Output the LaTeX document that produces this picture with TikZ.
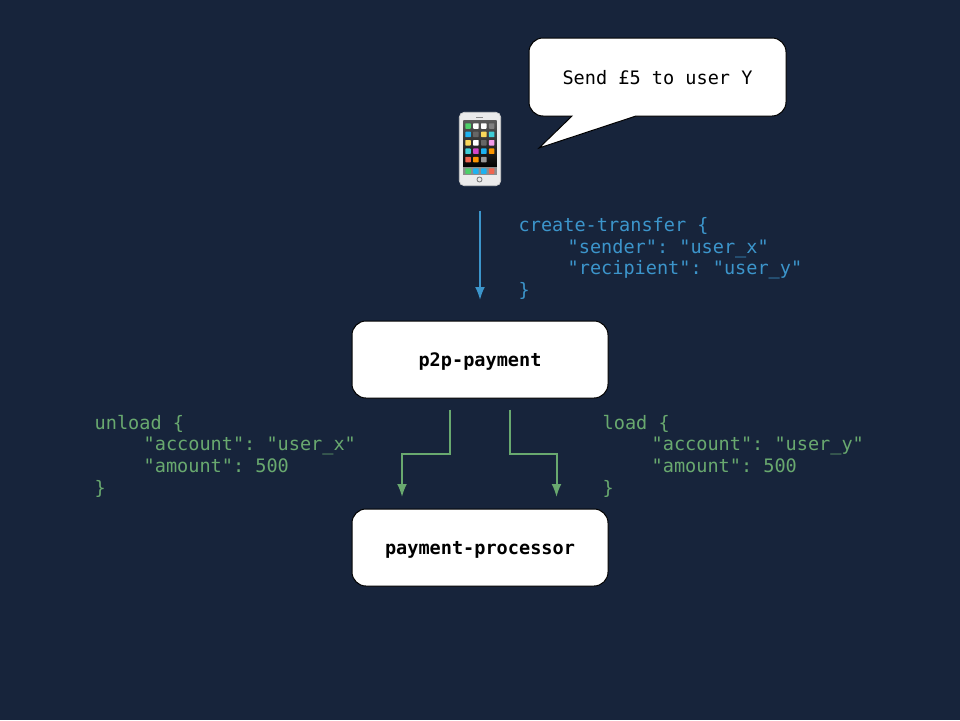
\documentclass[tikz,border=0pt]{standalone}
\usepackage{fontspec}
\setmonofont{DejaVu Sans Mono}
\usetikzlibrary{arrows.meta}
\tikzset{>={Latex[length=13pt,width=10pt]}}
\definecolor{nightbg}{HTML}{17243B}
\definecolor{bluecode}{HTML}{3C95CB}
\definecolor{greencode}{HTML}{69A96F}
\definecolor{iconred}{HTML}{F0654F}
\definecolor{iconorange}{HTML}{FB9400}
\definecolor{iconblue}{HTML}{1DB2F0}
\definecolor{icongreen}{HTML}{4CD068}
\definecolor{iconteal}{HTML}{3FCFD8}
\definecolor{iconyellow}{HTML}{FAD85A}
\definecolor{iconpink}{HTML}{F49BEB}
\definecolor{iconmagenta}{HTML}{D345C8}
\tikzset{
  servicebox/.style={draw=black,line width=1pt,fill=white,rounded corners=14pt,
    minimum width=256pt,minimum height=77pt,inner sep=0pt,text height=17pt,text depth=3pt,
    font=\fontsize{18.55}{22}\selectfont\ttfamily\bfseries},
  bubbleline/.style={draw=black,line width=1pt,fill=white},
  codeblue/.style={text=bluecode,anchor=west,align=left,inner sep=0pt,
    font=\fontsize{18.55}{21.7}\selectfont\ttfamily},
  codegreen/.style={codeblue,text=greencode},
  bluearrow/.style={->,draw=bluecode,line width=2pt},
  greenarrow/.style={->,draw=greencode,line width=2pt},
  appicon/.style={minimum size=5.5pt,inner sep=0pt,rounded corners=0.6pt,fill=#1},
}
\newcommand{\codeindent}{\hspace*{49pt}}
\begin{document}
\begin{tikzpicture}[x=1pt,y=-1pt]
  \fill[nightbg] (0,0) rectangle (960,720);
  \useasboundingbox (0,0) rectangle (960,720);

  % speech bubble
  \draw[bubbleline]
    (539,148) -- (572,116) [rounded corners=14pt] -- (529,116) -- (529,38) -- (786,38) -- (786,116)
    [sharp corners] -- (636,116) -- cycle;
  \node[font=\fontsize{18.55}{22}\selectfont\ttfamily] (sendtext) at (657.5,78) {Send £5 to user Y};

  % phone
  \node[minimum width=41pt,minimum height=73pt,inner sep=0pt] (phone) at (480,149) {};
  \fill[draw=black!20,line width=0.8pt,fill=black!8,rounded corners=5pt]
    (phone.north west) rectangle (phone.south east);
  \fill[top color=black!65,bottom color=black] (463.3,120.5) rectangle (496.7,167);
  \fill[black!45] (463.3,167) rectangle (496.7,175);
  \fill[black!45] (476,116.7) rectangle (483,118.2);
  \draw[black!50,line width=0.9pt] (479.5,179.5) circle (2.5);
  \foreach \iconcolor [count=\i from 0] in {icongreen,white,white,black!50,
      iconblue,black!60,iconyellow,iconteal,
      iconyellow,white,black!60,iconpink,
      iconteal,iconmagenta,iconblue,iconorange,
      iconred,iconorange,black!40} {
    \pgfmathtruncatemacro{\col}{mod(\i,4)}
    \pgfmathtruncatemacro{\row}{div(\i,4)}
    \node[appicon=\iconcolor] (icon\i) at (468+7.9*\col,126+8.4*\row) {};
  }
  \foreach \iconcolor [count=\i from 0] in {icongreen,iconblue,iconblue,iconred}
    \node[appicon=\iconcolor] (dock\i) at (468+7.9*\i,171) {};

  % services
  \node[servicebox] (p2p) at (480,359.5) {p2p-payment};
  \node[servicebox] (processor) at (480,547.5) {payment-processor};

  % code labels
  \node[codeblue] (createcode) at (518.5,258.5) {create-transfer \{\\
    \codeindent"sender": "user\_x"\\
    \codeindent"recipient": "user\_y"\\
    \}};
  \node[codegreen] (unloadcode) at (94.5,456) {unload \{\\
    \codeindent"account": "user\_x"\\
    \codeindent"amount": 500\\
    \}};
  \node[codegreen] (loadcode) at (602.5,456) {load \{\\
    \codeindent"account": "user\_y"\\
    \codeindent"amount": 500\\
    \}};

  % connectors
  \draw[bluearrow,shorten <=25pt,shorten >=20.5pt] (phone.south) -- (p2p.north);
  \draw[greenarrow,shorten <=11pt,shorten >=11.5pt]
    ([xshift=-30pt]p2p.south) -- ++(0,55) -| ([xshift=-78pt]processor.north);
  \draw[greenarrow,shorten <=11pt,shorten >=11.5pt]
    ([xshift=30pt]p2p.south) -- ++(0,55) -| ([xshift=76.5pt]processor.north);
\end{tikzpicture}
\end{document}
